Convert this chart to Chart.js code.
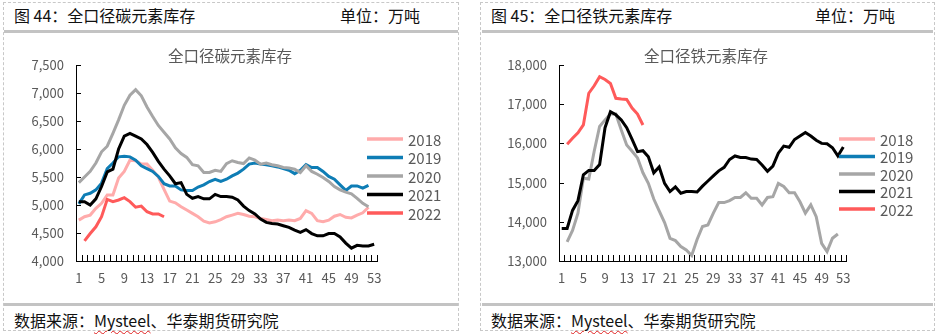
<!DOCTYPE html>
<html>
<head>
<meta charset="utf-8">
<script src="https://cdn.jsdelivr.net/npm/chart.js@4.4.1/dist/chart.umd.min.js"></script>
<style>
  html, body { margin: 0; padding: 0; background: #fff; }
  body { width: 939px; height: 334px; position: relative; overflow: hidden;
         font-family: "Noto Sans CJK SC", "Noto Sans", sans-serif; color: #111; }
  .box { position: absolute; top: 2px; height: 329px; border: 1px dashed #c8c8c8; box-sizing: border-box; }
  .bar { position: absolute; height: 3px; background: #c3c3c3; }
  .txt { position: absolute; font-size: 16px; line-height: 20px; white-space: nowrap; }
  .squiggle { text-decoration: underline wavy #e02020; text-decoration-thickness: 1px; text-underline-offset: 3px; }
  canvas { position: absolute; top: 35px; }
</style>
</head>
<body>
<div class="box" style="left:3px; width:456px;"></div>
<div class="box" style="left:480px; width:455px;"></div>

<div class="txt" style="left:14px; top:5px;">图 44：全口径碳元素库存</div>
<div class="txt" style="left:340px; top:5px;">单位：万吨</div>
<div class="txt" style="left:491px; top:5px;">图 45：全口径铁元素库存</div>
<div class="txt" style="left:815px; top:5px;">单位：万吨</div>

<div class="bar" style="left:4px; width:454px; top:30px;"></div>
<div class="bar" style="left:482px; width:451px; top:30px;"></div>
<div class="bar" style="left:4px; width:454px; top:303px;"></div>
<div class="bar" style="left:482px; width:451px; top:303px;"></div>

<div class="txt" style="left:14px; top:310px;">数据来源：<span class="squiggle">Mysteel</span>、华泰期货研究院</div>
<div class="txt" style="left:491px; top:310px;">数据来源：<span class="squiggle">Mysteel</span>、华泰期货研究院</div>

<canvas id="carbonChart" width="460" height="265" style="left:0px;"></canvas>
<canvas id="ironChart" width="469" height="265" style="left:470px;"></canvas>

<script>
// week numbers on the x axis
const weeks = ['1','2','3','4','5','6','7','8','9','10','11','12','13','14','15','16','17','18','19','20',
  '21','22','23','24','25','26','27','28','29','30','31','32','33','34','35','36','37','38','39','40',
  '41','42','43','44','45','46','47','48','49','50','51','52','53'];
const xTickLabels = ['1','5','9','13','17','21','25','29','33','37','41','45','49','53'];

const years = ['2018', '2019', '2020', '2021', '2022'];
const yearColors = ['#ffabab', '#0e7db5', '#a6a6a6', '#000000', '#ff5a5a'];

// 全口径碳元素库存 (万吨)
const carbonYTicks = [4000, 4500, 5000, 5500, 6000, 6500, 7000, 7500];
const carbon2018 = [4730,4790,4820,4940,5030,5180,5180,5480,5600,5800,5790,5730,5730,5620,5500,5280,5070,5040,4970,4910,
  4850,4790,4710,4680,4700,4740,4790,4820,4850,4830,4800,4790,4760,4740,4720,4730,4720,4730,4720,4760,
  4900,4850,4720,4700,4730,4800,4830,4780,4770,4820,4860,4960];
const carbon2019 = [5020,5180,5210,5270,5390,5650,5750,5860,5870,5860,5800,5700,5650,5600,5510,5380,5340,5340,5270,5260,
  5260,5320,5360,5420,5460,5420,5460,5520,5570,5640,5730,5750,5730,5720,5700,5680,5650,5620,5560,5620,
  5720,5670,5670,5600,5510,5460,5360,5260,5340,5340,5300,5350];
const carbon2020 = [5400,5500,5600,5750,5950,6050,6280,6520,6780,6960,7060,6950,6750,6580,6420,6300,6180,6020,5920,5850,
  5720,5700,5580,5580,5620,5600,5740,5790,5760,5740,5840,5800,5730,5750,5720,5700,5670,5660,5640,5580,
  5700,5600,5550,5490,5420,5330,5270,5230,5200,5120,5030,4970];
const carbon2021 = [5060,5060,5000,5110,5330,5590,5640,6000,6230,6280,6230,6180,6080,5940,5780,5640,5520,5380,5400,5190,
  5120,5150,5110,5110,5190,5150,5150,5140,5090,4980,4900,4840,4750,4690,4670,4660,4630,4600,4550,4510,
  4560,4490,4450,4450,4490,4490,4430,4320,4230,4280,4270,4270,4300];
const carbon2022 = [null,4360,4490,4610,4790,5100,5060,5090,5130,5060,4960,4980,4880,4840,4840,4790];

// 全口径铁元素库存 (万吨)
const ironYTicks = [13000, 14000, 15000, 16000, 17000, 18000];
const iron2018 = [];
const iron2019 = [];
const iron2020 = [null,13490,13780,14220,15110,15090,15800,16430,16600,16750,16750,16340,15960,15800,15630,15250,14980,14580,14280,13980,
  13580,13520,13370,13280,13140,13550,13880,13920,14220,14490,14490,14540,14620,14620,14740,14600,14600,14430,14620,14640,
  14980,14900,14740,14740,14510,14220,14430,14130,13450,13240,13580,13690];
const iron2021 = [13830,13830,14290,14540,15200,15310,15310,15460,16400,16810,16730,16600,16400,16100,15790,15815,15660,15250,15400,14980,
  14770,14890,14730,14770,14770,14760,14910,15040,15170,15300,15390,15590,15680,15640,15640,15600,15590,15450,15290,15420,
  15750,15930,15900,16100,16190,16280,16190,16080,16000,15990,15890,15680,15910];
const iron2022 = [null,15980,16130,16270,16470,17280,17470,17700,17630,17530,17150,17130,17120,16900,16750,16470];

const FONT = '"Noto Sans CJK SC", "Noto Sans", sans-serif';
const GREY_TEXT = '#595959';

// chart title + legend at the right side (overlapping the plot like the original)
const sideLegend = {
    id: 'sideLegend',
    afterDraw(chart, args, opts) {
        const ctx = chart.ctx;
        ctx.save();
        ctx.fillStyle = GREY_TEXT;
        ctx.font = '15.5px ' + FONT;
        ctx.textAlign = 'center';
        ctx.textBaseline = 'middle';
        ctx.fillText(opts.title, opts.titleX, 21);

        ctx.textAlign = 'left';
        ctx.font = '15px ' + FONT;
        chart.data.datasets.forEach((ds, i) => {
            const y = opts.top + i * opts.gap;
            ctx.strokeStyle = ds.borderColor;
            ctx.lineWidth = 3.5;
            ctx.beginPath();
            ctx.moveTo(opts.left, y);
            ctx.lineTo(opts.left + 36, y);
            ctx.stroke();
            ctx.fillStyle = GREY_TEXT;
            ctx.fillText(ds.label, opts.left + 41, y + 1);
        });
        ctx.restore();
    }
};

// Excel style tick marks pointing into the plot
const innerTicks = {
    id: 'innerTicks',
    afterDraw(chart) {
        const { ctx, chartArea } = chart;
        const x = chart.scales.x, y = chart.scales.y;
        const bottom = Math.round(chartArea.bottom);
        const left = Math.round(chartArea.left);
        ctx.save();
        ctx.fillStyle = '#000';
        for (let i = 0; i <= chart.data.labels.length; i++) {
            const px = Math.round(x.getPixelForValue(i - 0.5));
            ctx.fillRect(px, bottom - 6, 1, 6);
        }
        y.ticks.forEach(t => {
            const py = Math.round(y.getPixelForValue(t.value));
            ctx.fillRect(left, py, 5, 1);
        });
        ctx.restore();
    }
};

function makeChart(id, title, series, yTicks, yWidth, pad, legendPos) {
    const datasets = series.map((data, i) => ({
        label: years[i],
        data: data,
        borderColor: yearColors[i],
        backgroundColor: yearColors[i],
        borderWidth: 3,
        pointRadius: 0,
        tension: 0,
        spanGaps: false,
        order: series.length - i,   // later years on top
    }));

    return new Chart(document.getElementById(id), {
        type: 'line',
        data: { labels: weeks, datasets: datasets },
        options: {
            responsive: false,
            animation: false,
            devicePixelRatio: 1,
            layout: { padding: pad },
            plugins: {
                legend: { display: false },
                tooltip: { enabled: false },
                title: { display: false },
                sideLegend: Object.assign({ title: title }, legendPos),
            },
            scales: {
                x: {
                    type: 'category',
                    offset: true,
                    grid: { display: false, drawTicks: false },
                    border: { display: true, color: '#000', width: 1 },
                    ticks: {
                        autoSkip: false,
                        maxRotation: 0,
                        padding: 9,
                        color: GREY_TEXT,
                        font: { family: FONT, size: 13 },
                        callback(v) {
                            const l = this.getLabelForValue(v);
                            return xTickLabels.includes(l) ? l : '';
                        },
                    },
                    afterFit(scale) { scale.height = 30; },
                },
                y: {
                    min: yTicks[0],
                    max: yTicks[yTicks.length - 1],
                    grid: { display: false, drawTicks: false },
                    border: { display: true, color: '#000', width: 1 },
                    ticks: {
                        padding: 12,
                        color: GREY_TEXT,
                        font: { family: FONT, size: 13 },
                        callback: v => v.toLocaleString('en-US'),
                    },
                    afterBuildTicks(scale) { scale.ticks = yTicks.map(v => ({ value: v })); },
                    afterFit(scale) { scale.width = yWidth; },
                },
            },
        },
        plugins: [innerTicks, sideLegend],
    });
}

makeChart('carbonChart', '全口径碳元素库存',
    [carbon2018, carbon2019, carbon2020, carbon2021, carbon2022],
    carbonYTicks, 70, { left: 6, right: 83, top: 30, bottom: 9 },
    { titleX: 230, left: 367, top: 104, gap: 18.5 });

makeChart('ironChart', '全口径铁元素库存',
    [iron2018, iron2019, iron2020, iron2021, iron2022],
    ironYTicks, 80, { left: 9, right: 93, top: 30, bottom: 9 },
    { titleX: 236, left: 369, top: 104, gap: 17.5 });
</script>
</body>
</html>
